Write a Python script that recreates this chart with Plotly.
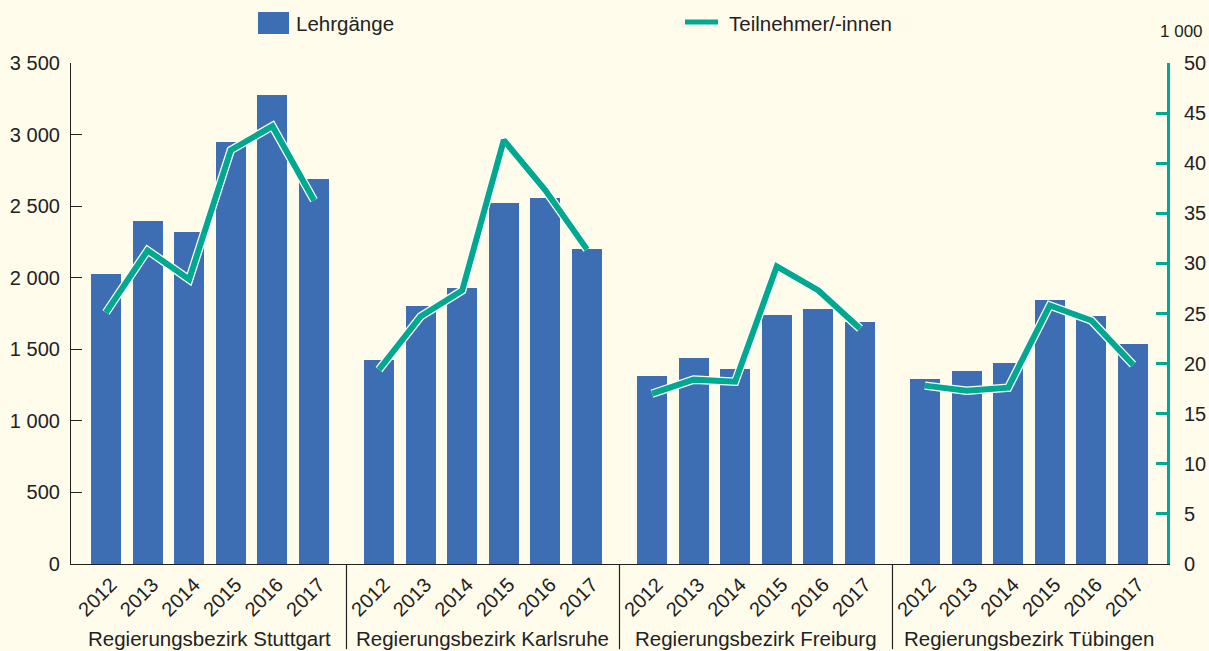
import plotly.graph_objects as go

regions = ["Regierungsbezirk Stuttgart", "Regierungsbezirk Karlsruhe",
           "Regierungsbezirk Freiburg", "Regierungsbezirk Tübingen"]
years = ["2012", "2013", "2014", "2015", "2016", "2017"]

# Lehrgänge (left axis)
lehrgaenge_stuttgart = [2025, 2395, 2320, 2950, 3275, 2690]
lehrgaenge_karlsruhe = [1425, 1800, 1928, 2520, 2555, 2200]
lehrgaenge_freiburg = [1313, 1440, 1362, 1740, 1780, 1690]
lehrgaenge_tuebingen = [1292, 1348, 1404, 1845, 1733, 1537]

# Teilnehmer/-innen in 1 000 (right axis)
teilnehmer_stuttgart = [25.1, 31.3, 28.4, 41.3, 43.7, 36.3]
teilnehmer_karlsruhe = [19.4, 24.7, 27.3, 42.3, 37.3, 31.4]
teilnehmer_freiburg = [17.0, 18.4, 18.2, 29.7, 27.3, 23.5]
teilnehmer_tuebingen = [17.8, 17.3, 17.6, 25.8, 24.3, 19.9]

left_ticks = [0, 500, 1000, 1500, 2000, 2500, 3000, 3500]
left_ticktext = ["0", "500", "1 000", "1 500", "2 000", "2 500", "3 000", "3 500"]
right_ticks = [0, 5, 10, 15, 20, 25, 30, 35, 40, 45, 50]

lehr = [lehrgaenge_stuttgart, lehrgaenge_karlsruhe, lehrgaenge_freiburg, lehrgaenge_tuebingen]
teil = [teilnehmer_stuttgart, teilnehmer_karlsruhe, teilnehmer_freiburg, teilnehmer_tuebingen]

GROUP_PITCH = 6.5625
LABEL_SHIFT = 0.12
BLUE = "#3d6eb4"
TEAL = "#00a88f"
BG = "#fffceb"
FONT = "Liberation Sans"
TXT = "#222222"

xs, bar_y, line_x, line_y = [], [], [], []
tickvals, ticktext = [], []
for g in range(4):
    for i in range(6):
        x = g * GROUP_PITCH + i
        xs.append(x)
        bar_y.append(lehr[g][i])
        line_x.append(x)
        line_y.append(teil[g][i])
        tickvals.append(x + LABEL_SHIFT)
        ticktext.append(years[i])
    line_x.append(None)
    line_y.append(None)

fig = go.Figure()
fig.add_trace(go.Bar(x=xs, y=bar_y, width=0.72, marker=dict(color=BLUE, line=dict(width=0)),
                     name="Lehrgänge", showlegend=False))
fig.add_trace(go.Scatter(x=line_x, y=line_y, mode="lines", yaxis="y2",
                         line=dict(color="white", width=8.5), showlegend=False, hoverinfo="skip"))
fig.add_trace(go.Scatter(x=line_x, y=line_y, mode="lines", yaxis="y2",
                         line=dict(color=TEAL, width=6), name="Teilnehmer/-innen", showlegend=False))

shapes = []
annotations = []
# group separators and labels
for g in range(4):
    center = g * GROUP_PITCH + 2.5
    annotations.append(dict(x=center, y=-0.148, xref="x", yref="paper", text=regions[g],
                            showarrow=False, font=dict(family=FONT, size=20.5, color=TXT),
                            xanchor="center", yanchor="middle"))
    if g > 0:
        sx = g * GROUP_PITCH - (GROUP_PITCH - 5) / 2
        shapes.append(dict(type="line", xref="x", yref="paper", x0=sx, x1=sx, y0=0, y1=-0.17,
                           line=dict(color="#222222", width=1.2)))

# manual legend
shapes.append(dict(type="rect", xref="paper", yref="paper",
                   x0=(258 - 71) / 1096, x1=(289 - 71) / 1096,
                   y0=(564 - 34) / 501, y1=(564 - 12) / 501,
                   fillcolor=BLUE, line=dict(width=0)))
annotations.append(dict(x=(294 - 71) / 1096, y=(564 - 23) / 501, xref="paper", yref="paper",
                        text="Lehrgänge", showarrow=False, xanchor="left", yanchor="middle",
                        font=dict(family=FONT, size=20.5, color=TXT)))
shapes.append(dict(type="line", xref="paper", yref="paper",
                   x0=(685 - 71) / 1096, x1=(718 - 71) / 1096,
                   y0=(564 - 22) / 501, y1=(564 - 22) / 501,
                   line=dict(color=TEAL, width=5)))
annotations.append(dict(x=(727 - 71) / 1096, y=(564 - 23) / 501, xref="paper", yref="paper",
                        text="Teilnehmer/-innen", showarrow=False, xanchor="left", yanchor="middle",
                        font=dict(family=FONT, size=20.5, color=TXT)))
annotations.append(dict(x=(1181 - 71) / 1096, y=(564 - 32) / 501, xref="paper", yref="paper",
                        text="1 000", showarrow=False, xanchor="center", yanchor="middle",
                        font=dict(family=FONT, size=17, color=TXT)))

fig.update_layout(
    width=1209, height=651,
    margin=dict(l=71, r=42, t=63, b=87, autoexpand=False),
    paper_bgcolor=BG, plot_bgcolor=BG,
    font=dict(family=FONT, color=TXT),
    bargap=0,
    showlegend=False,
    xaxis=dict(range=[-0.841, 25.505], tickmode="array", tickvals=tickvals, ticktext=ticktext,
               tickangle=-45, tickfont=dict(size=20, color=TXT), showgrid=False, zeroline=False,
               showline=True, linecolor="#222222", linewidth=1.2, ticks="", fixedrange=True,
               automargin=False),
    yaxis=dict(range=[0, 3500], tickmode="array", tickvals=left_ticks, ticktext=left_ticktext,
               showgrid=False, zeroline=False, showline=True, linecolor="#222222", linewidth=1.2,
               ticks="inside", ticklen=11, tickwidth=1.2, tickcolor="#222222",
               tickfont=dict(size=20, color=TXT), ticklabelstandoff=6, automargin=False),
    yaxis2=dict(range=[0, 50], overlaying="y", side="right", tickmode="array", tickvals=right_ticks,
                showgrid=False, zeroline=False, showline=True, linecolor=TEAL, linewidth=3,
                ticks="inside", ticklen=11, tickwidth=3, tickcolor=TEAL,
                tickfont=dict(size=20, color=TXT), ticklabelstandoff=10, automargin=False),
    shapes=shapes, annotations=annotations,
)

fig.write_html("out.html", config={"displayModeBar": False},
               post_script="document.body.style.margin='0';document.body.style.overflow='hidden';")
